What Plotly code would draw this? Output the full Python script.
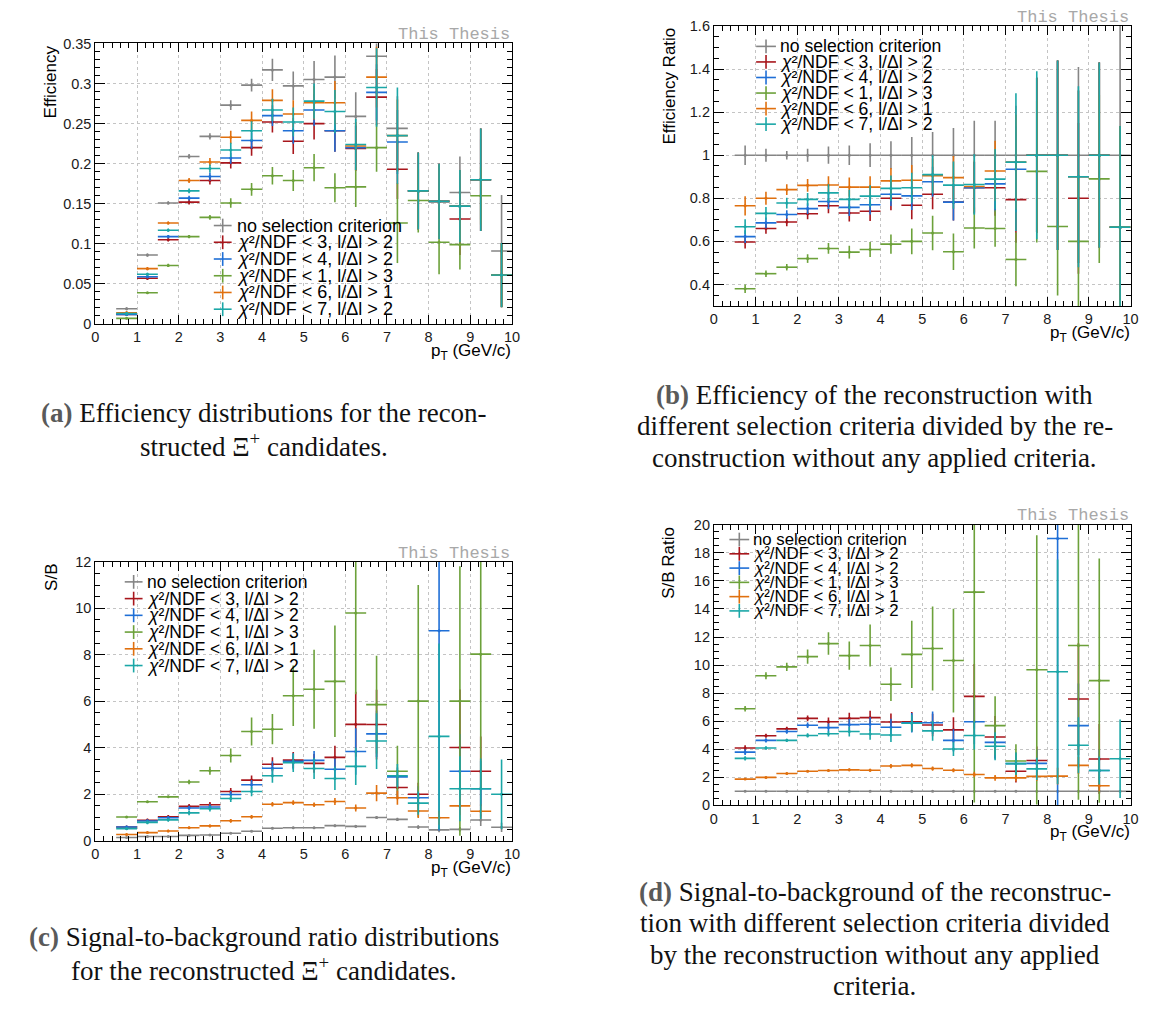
import plotly.graph_objects as go

W, H = 1159, 1022

# ---------------- data ----------------
pt = [0.75 + 0.5 * i for i in range(19)]
pt_halfwidth = [0.25] * 19

series_names = [
    "no selection criterion",
    "<i>χ</i>²/NDF &lt; 3, l/Δl &gt; 2",
    "<i>χ</i>²/NDF &lt; 4, l/Δl &gt; 2",
    "<i>χ</i>²/NDF &lt; 1, l/Δl &gt; 3",
    "<i>χ</i>²/NDF &lt; 6, l/Δl &gt; 1",
    "<i>χ</i>²/NDF &lt; 7, l/Δl &gt; 2",
]
series_colors = ["#858585", "#a8161c", "#1f6fd6", "#6ca13a", "#e0700f", "#1ba7a7"]

# (a) efficiency
eff_none = [0.019, 0.086, 0.151, 0.209, 0.234, 0.273, 0.298, 0.317, 0.297, 0.305, 0.308, 0.259, 0.334, 0.244, 0.166, 0.153, 0.164, 0.180, 0.091]
eff_c3l2 = [0.012, 0.057, 0.105, 0.152, 0.179, 0.201, 0.220, 0.252, 0.228, 0.250, 0.241, 0.219, 0.283, 0.193, 0.166, 0.153, 0.131, 0.180, 0.061]
eff_c4l2 = [0.012, 0.059, 0.109, 0.157, 0.184, 0.207, 0.229, 0.260, 0.241, 0.267, 0.241, 0.220, 0.289, 0.227, 0.166, 0.153, 0.147, 0.180, 0.061]
eff_c1l3 = [0.007, 0.039, 0.073, 0.109, 0.133, 0.151, 0.168, 0.185, 0.179, 0.195, 0.170, 0.171, 0.220, 0.126, 0.154, 0.102, 0.099, 0.160, 0.061]
eff_c6l1 = [0.014, 0.069, 0.126, 0.179, 0.202, 0.233, 0.254, 0.279, 0.262, 0.276, 0.276, 0.222, 0.308, 0.235, 0.166, 0.153, 0.147, 0.180, 0.061]
eff_c7l2 = [0.013, 0.062, 0.117, 0.166, 0.194, 0.217, 0.241, 0.267, 0.252, 0.278, 0.265, 0.224, 0.295, 0.235, 0.166, 0.153, 0.147, 0.180, 0.061]
eff_none_err = [0.002, 0.002, 0.002, 0.003, 0.004, 0.006, 0.008, 0.014, 0.018, 0.023, 0.027, 0.030, 0.030, 0.040, 0.045, 0.045, 0.045, 0.050, 0.070]
eff_c3l2_err = [0.002, 0.002, 0.002, 0.003, 0.005, 0.007, 0.010, 0.013, 0.016, 0.020, 0.026, 0.028, 0.035, 0.037, 0.048, 0.047, 0.045, 0.064, 0.040]
eff_c4l2_err = [0.002, 0.002, 0.002, 0.003, 0.005, 0.007, 0.010, 0.013, 0.016, 0.020, 0.026, 0.028, 0.035, 0.040, 0.048, 0.047, 0.045, 0.064, 0.040]
eff_c1l3_err = [0.001, 0.001, 0.002, 0.002, 0.003, 0.006, 0.008, 0.011, 0.013, 0.017, 0.018, 0.025, 0.030, 0.050, 0.040, 0.040, 0.031, 0.036, 0.040]
eff_c6l1_err = [0.002, 0.002, 0.002, 0.003, 0.005, 0.008, 0.011, 0.014, 0.017, 0.021, 0.027, 0.030, 0.038, 0.045, 0.048, 0.047, 0.045, 0.064, 0.040]
eff_c7l2_err = [0.002, 0.002, 0.002, 0.003, 0.005, 0.009, 0.012, 0.014, 0.018, 0.022, 0.027, 0.032, 0.049, 0.060, 0.048, 0.047, 0.045, 0.064, 0.040]

# (b) efficiency ratio
effr_none = [1.0] * 19
effr_c3l2 = [0.597, 0.660, 0.690, 0.728, 0.765, 0.732, 0.740, 0.800, 0.768, 0.819, 0.782, 0.849, 0.849, 0.794, 1.0, 1.0, 0.800, 1.0, 0.666]
effr_c4l2 = [0.622, 0.686, 0.725, 0.752, 0.785, 0.758, 0.770, 0.819, 0.811, 0.877, 0.782, 0.849, 0.867, 0.935, 1.0, 1.0, 0.900, 1.0, 0.666]
effr_c1l3 = [0.380, 0.450, 0.480, 0.520, 0.567, 0.550, 0.562, 0.587, 0.600, 0.639, 0.552, 0.662, 0.660, 0.516, 0.925, 0.669, 0.600, 0.890, 0.666]
effr_c6l1 = [0.765, 0.800, 0.840, 0.860, 0.862, 0.852, 0.852, 0.881, 0.884, 0.905, 0.896, 0.855, 0.927, 0.968, 1.0, 1.0, 0.900, 1.0, 0.666]
effr_c7l2 = [0.668, 0.730, 0.778, 0.795, 0.825, 0.795, 0.810, 0.846, 0.849, 0.910, 0.861, 0.864, 0.889, 0.968, 1.0, 1.0, 0.900, 1.0, 0.666]
effr_none_err = [0.045, 0.030, 0.020, 0.030, 0.040, 0.045, 0.055, 0.065, 0.085, 0.108, 0.126, 0.160, 0.160, 0.230, 0.360, 0.440, 0.410, 0.430, 0.620]
effr_c3l2_err = [0.030, 0.025, 0.020, 0.025, 0.035, 0.040, 0.045, 0.055, 0.065, 0.070, 0.085, 0.120, 0.130, 0.200, 0.360, 0.440, 0.350, 0.430, 0.470]
effr_c4l2_err = [0.030, 0.025, 0.020, 0.025, 0.035, 0.040, 0.045, 0.055, 0.065, 0.070, 0.085, 0.120, 0.130, 0.200, 0.360, 0.440, 0.400, 0.430, 0.470]
effr_c1l3_err = [0.020, 0.015, 0.015, 0.020, 0.025, 0.030, 0.035, 0.045, 0.060, 0.080, 0.085, 0.095, 0.085, 0.125, 0.330, 0.320, 0.300, 0.390, 0.470]
effr_c6l1_err = [0.045, 0.030, 0.025, 0.030, 0.040, 0.045, 0.050, 0.060, 0.070, 0.080, 0.100, 0.120, 0.140, 0.220, 0.360, 0.440, 0.400, 0.430, 0.470]
effr_c7l2_err = [0.035, 0.030, 0.025, 0.030, 0.040, 0.045, 0.050, 0.060, 0.070, 0.090, 0.110, 0.140, 0.140, 0.320, 0.390, 0.440, 0.420, 0.430, 0.470]

# (c) signal-to-background
sb_none = [0.14, 0.18, 0.18, 0.23, 0.25, 0.32, 0.41, 0.54, 0.56, 0.56, 0.65, 0.62, 1.00, 0.92, 0.59, 0.47, 0.49, 0.89, 0.58]
sb_c3l2 = [0.59, 0.88, 1.03, 1.48, 1.55, 2.12, 2.61, 3.29, 3.47, 3.33, 3.59, 5.01, 5.00, 2.29, 2.00, None, 4.01, 2.99, None]
sb_c4l2 = [0.59, 0.85, 0.99, 1.41, 1.45, 1.99, 2.41, 3.12, 3.42, 3.46, 3.08, 3.84, 4.60, 2.75, 1.85, 9.04, 2.99, 2.24, None]
sb_c1l3 = [1.02, 1.68, 1.89, 2.53, 3.01, 3.67, 4.70, 4.80, 6.24, 6.52, 6.86, 9.80, 5.86, 2.99, 6.01, None, 6.01, 8.03, None]
sb_c6l1 = [0.27, 0.35, 0.42, 0.56, 0.64, 0.86, 1.03, 1.57, 1.64, 1.55, 1.69, 1.41, 2.05, 1.85, 1.28, 0.99, 1.50, 1.27, None]
sb_c7l2 = [0.52, 0.79, 0.90, 1.20, 1.38, 1.82, 2.12, 2.80, 3.36, 3.11, 2.68, 3.20, 4.29, 2.80, 1.62, 4.49, 2.24, 2.24, 2.00]
sb_none_err = [0.01, 0.01, 0.01, 0.015, 0.02, 0.02, 0.03, 0.04, 0.04, 0.04, 0.05, 0.06, 0.06, 0.07, 0.08, 0.10, 0.10, 0.25, 0.20]
sb_c3l2_err = [0.06, 0.08, 0.08, 0.10, 0.12, 0.15, 0.20, 0.30, 0.35, 0.40, 0.50, 1.40, 1.50, 0.50, 0.50, None, 2.50, 1.50, None]
sb_c4l2_err = [0.06, 0.08, 0.08, 0.10, 0.12, 0.15, 0.20, 0.30, 0.35, 0.40, 0.45, 1.00, 1.00, 0.40, 0.50, 8.60, 1.60, 1.20, None]
sb_c1l3_err = [0.03, 0.04, 0.05, 0.10, 0.17, 0.30, 0.60, 0.65, 1.30, 1.70, 2.40, 3.50, 2.10, 1.10, 5.00, None, 5.80, 5.80, None]
sb_c6l1_err = [0.03, 0.04, 0.05, 0.05, 0.06, 0.08, 0.08, 0.10, 0.10, 0.10, 0.15, 0.15, 0.35, 0.30, 0.30, 0.30, 0.40, 0.30, None]
sb_c7l2_err = [0.06, 0.08, 0.08, 0.10, 0.12, 0.15, 0.20, 0.30, 0.40, 0.45, 0.50, 0.80, 1.20, 0.50, 0.50, 4.00, 1.40, 1.30, 1.50]

# (d) signal-to-background ratio
sbr_none = [1.0] * 19
sbr_c3l2 = [4.09, 4.96, 5.45, 6.20, 5.96, 6.20, 6.25, 5.94, 5.96, 5.73, 5.38, 7.77, 4.87, 2.43, 3.20, None, 7.58, 3.30, None]
sbr_c4l2 = [3.79, 4.63, 5.26, 5.71, 5.54, 5.75, 5.78, 5.57, 5.89, 5.89, 4.63, 5.96, 4.49, 2.97, 2.99, 19.02, 5.68, 2.48, None]
sbr_c1l3 = [6.88, 9.24, 9.87, 10.60, 11.53, 10.67, 11.39, 8.63, 10.76, 11.18, 10.32, 15.20, 5.68, 3.16, 9.66, None, 11.39, 8.89, None]
sbr_c6l1 = [1.87, 1.99, 2.27, 2.43, 2.48, 2.53, 2.50, 2.80, 2.85, 2.62, 2.50, 2.20, 1.96, 1.96, 2.06, 2.08, 2.85, 1.40, None]
sbr_c7l2 = [3.35, 4.09, 4.63, 4.98, 5.10, 5.26, 5.08, 5.01, 5.85, 5.31, 4.02, 4.98, 4.21, 2.97, 2.60, 9.52, 4.28, 2.48, 3.32]
sbr_none_err = [0.0] * 19
sbr_c3l2_err = [0.20, 0.15, 0.15, 0.20, 0.30, 0.40, 0.50, 0.60, 0.70, 0.80, 0.90, 2.30, 1.50, 0.80, 1.00, None, 4.00, 2.50, None]
sbr_c4l2_err = [0.20, 0.15, 0.15, 0.20, 0.30, 0.40, 0.50, 0.60, 0.70, 0.80, 0.80, 1.60, 1.20, 0.80, 1.00, 19.0, 3.00, 1.50, None]
sbr_c1l3_err = [0.20, 0.25, 0.30, 0.50, 0.80, 1.00, 1.50, 1.20, 2.40, 3.00, 3.70, 15.0, 2.10, 1.20, 9.60, None, 11.0, 8.70, None]
sbr_c6l1_err = [0.05, 0.06, 0.07, 0.08, 0.08, 0.10, 0.10, 0.15, 0.15, 0.15, 0.15, 0.20, 0.20, 0.25, 0.30, 0.60, 0.60, 0.40, None]
sbr_c7l2_err = [0.15, 0.12, 0.12, 0.15, 0.20, 0.35, 0.40, 0.50, 0.60, 0.70, 0.50, 1.00, 1.00, 0.80, 0.80, 8.00, 2.00, 1.00, 2.80]

x_ticks = list(range(0, 11))

# ---------------- layout helpers ----------------
def fx(px):
    return px / W

def fy(py):
    return 1 - py / H

panels = [
    dict(x0=92.3, x1=513.3, y0=36.0, y1=321.0, yrange=[0, 0.35], dtick=0.05, minor=0.01,
         ytitle="Efficiency", ytitle_x=47,
         vals=[eff_none, eff_c3l2, eff_c4l2, eff_c1l3, eff_c6l1, eff_c7l2],
         errs=[eff_none_err, eff_c3l2_err, eff_c4l2_err, eff_c1l3_err, eff_c6l1_err, eff_c7l2_err],
         leg=dict(cx=221, y=221, dy=17.0, tx=233, hw=9, size=18)),
    dict(x0=717.3, x1=1138.3, y0=18.3, y1=302.7, yrange=[0.3, 1.6], dtick=0.2, minor=0.05,
         ytitle="Efficiency Ratio", ytitle_x=672,
         vals=[effr_none, effr_c3l2, effr_c4l2, effr_c1l3, effr_c6l1, effr_c7l2],
         errs=[effr_none_err, effr_c3l2_err, effr_c4l2_err, effr_c1l3_err, effr_c6l1_err, effr_c7l2_err],
         leg=dict(cx=770, y=39, dy=15.8, tx=782, hw=10, size=17.6)),
    dict(x0=92.3, x1=513.3, y0=562.7, y1=846.0, yrange=[0, 12], dtick=2, minor=0.5,
         ytitle="S/B", ytitle_x=48,
         vals=[sb_none, sb_c3l2, sb_c4l2, sb_c1l3, sb_c6l1, sb_c7l2],
         errs=[sb_none_err, sb_c3l2_err, sb_c4l2_err, sb_c1l3_err, sb_c6l1_err, sb_c7l2_err],
         leg=dict(cx=131, y=583, dy=17.0, tx=142, hw=9, size=17.5)),
    dict(x0=717.3, x1=1138.3, y0=525.0, y1=810.0, yrange=[0, 20], dtick=2, minor=0.5,
         ytitle="S/B Ratio", ytitle_x=672,
         vals=[sbr_none, sbr_c3l2, sbr_c4l2, sbr_c1l3, sbr_c6l1, sbr_c7l2],
         errs=[sbr_none_err, sbr_c3l2_err, sbr_c4l2_err, sbr_c1l3_err, sbr_c6l1_err, sbr_c7l2_err],
         leg=dict(cx=743, y=540, dy=14.5, tx=755, hw=10, size=16.8)),
]

captions = [
    (263, [(411, "<b><span style='color:#5a5a5a'>(a)</span></b> Efficiency distributions for the recon-"),
           (444, "structed Ξ<sup>+</sup> candidates.")]),
    (880, [(393, "<b><span style='color:#5a5a5a'>(b)</span></b> Efficiency of the reconstruction with"),
           (425, "different selection criteria divided by the re-"),
           (457, "construction without any applied criteria.")]),
    (263, [(944, "<b><span style='color:#5a5a5a'>(c)</span></b> Signal-to-background ratio distributions"),
           (976, "for the reconstructed Ξ<sup>+</sup> candidates.")]),
    (880, [(898, "<b><span style='color:#5a5a5a'>(d)</span></b> Signal-to-background of the reconstruc-"),
           (930, "tion with different selection criteria divided"),
           (962, "by the reconstruction without any applied"),
           (994, "criteria.")]),
]

SANS = "Liberation Sans, Arial, sans-serif"
fig = go.Figure()
layout = dict(width=W, height=H, autosize=False, margin=dict(l=0, r=0, t=0, b=0),
              paper_bgcolor="white", plot_bgcolor="white", showlegend=False,
              font=dict(family=SANS, color="black"))
annotations = []
shapes = []

for i, p in enumerate(panels):
    n = "" if i == 0 else str(i + 1)
    xa, ya = "x" + n, "y" + n
    common = dict(showline=True, linecolor="black", linewidth=1, mirror="allticks",
                  ticks="inside", tickcolor="black", tickwidth=1,
                  showgrid=True, gridcolor="#c4c4c4", griddash="dot", gridwidth=1,
                  zeroline=False, tickfont=dict(family=SANS, size=14.5, color="#1a1a1a"))
    layout["xaxis" + n] = dict(common, domain=[fx(p["x0"]), fx(p["x1"])], range=[0, 10],
                               tickmode="array", tickvals=x_ticks, ticklen=9,
                               minor=dict(ticks="inside", dtick=0.2, ticklen=5, tickcolor="black", showgrid=False),
                               anchor=ya)
    layout["yaxis" + n] = dict(common, domain=[fy(p["y1"]), fy(p["y0"])], range=p["yrange"],
                               tick0=0, dtick=p["dtick"], ticklen=10,
                               minor=dict(ticks="inside", dtick=p["minor"], ticklen=5, tickcolor="black", showgrid=False),
                               anchor=xa)
    for k in range(6):
        fig.add_trace(go.Scatter(
            x=pt, y=p["vals"][k], mode="markers", xaxis=xa, yaxis=ya,
            name=series_names[k],
            marker=dict(size=3, color=series_colors[k]),
            error_x=dict(type="data", array=pt_halfwidth, color=series_colors[k], thickness=1.6, width=0),
            error_y=dict(type="data", array=[e if e is not None else 0 for e in p["errs"][k]],
                         color=series_colors[k], thickness=1.6, width=0),
            hoverinfo="x+y"))
    # "This Thesis"
    annotations.append(dict(xref="paper", yref="paper", x=fx(p["x1"]), y=fy(p["y0"] - 9),
                            xanchor="right", yanchor="middle", showarrow=False, text="This Thesis",
                            font=dict(family="Liberation Mono, Courier New, monospace", size=17, color="#a8a8a8")))
    # y title
    annotations.append(dict(xref="paper", yref="paper", x=fx(p["ytitle_x"]), y=fy(p["y0"]),
                            xanchor="center", yanchor="top", showarrow=False, textangle=-90,
                            text=p["ytitle"], font=dict(family=SANS, size=17, color="black")))
    # x title
    annotations.append(dict(xref="paper", yref="paper", x=fx(p["x1"] + 1), y=fy(p["y1"] + 15),
                            xanchor="right", yanchor="top", showarrow=False,
                            text="p<sub>T</sub> (GeV/c)", font=dict(family=SANS, size=17, color="black")))
    # legend
    lg = p["leg"]
    for k in range(6):
        cy = lg["y"] + k * lg["dy"]
        shapes.append(dict(type="line", xref="paper", yref="paper",
                           x0=fx(lg["cx"] - lg["hw"]), x1=fx(lg["cx"] + lg["hw"]), y0=fy(cy), y1=fy(cy),
                           line=dict(color=series_colors[k], width=1.6)))
        shapes.append(dict(type="line", xref="paper", yref="paper",
                           x0=fx(lg["cx"]), x1=fx(lg["cx"]), y0=fy(cy - 7), y1=fy(cy + 7),
                           line=dict(color=series_colors[k], width=1.6)))
        annotations.append(dict(xref="paper", yref="paper", x=fx(lg["tx"]), y=fy(cy),
                                xanchor="left", yanchor="middle", showarrow=False,
                                text=series_names[k], font=dict(family=SANS, size=lg["size"], color="black")))

for cx, lines in captions:
    for cy, txt in lines:
        annotations.append(dict(xref="paper", yref="paper", x=fx(cx), y=fy(cy),
                                xanchor="center", yanchor="middle", showarrow=False, text=txt,
                                font=dict(family="Liberation Serif, Times New Roman, serif", size=27, color="#111")))

layout["annotations"] = annotations
layout["shapes"] = shapes
fig.update_layout(**layout)
fig.write_html("out.html")
